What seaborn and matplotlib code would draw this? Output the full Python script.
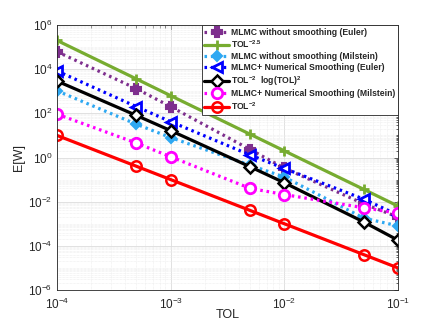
import matplotlib
matplotlib.use("Agg")
import matplotlib.pyplot as plt
import seaborn as sns
import pandas as pd
import numpy as np
from matplotlib.ticker import LogLocator, NullFormatter

tol = [1e-4, 5e-4, 1e-3, 5e-3, 1e-2, 5e-2, 1e-1]
mlmc_euler = [6.2e4, 1.3e3, 2.0e2, 2.3, 0.33, 8e-3, 2e-3]
ref_25 = [2e5, 3.6e3, 6.3e2, 11.3, 2.0, 3.6e-2, 6.3e-3]
mlmc_milstein = [1.05e3, 32, 8, 0.45, 0.13, 1.8e-3, 8e-4]
smooth_euler = [8.3e3, 200, 42, 1.3, 0.32, 0.013, 2.5e-3]
ref_2log = [2.9e3, 80, 16.5, 0.38, 0.072, 1.2e-3, 1.8e-4]
smooth_milstein = [92, 4.5, 1.08, 0.04, 0.021, 5.3e-3, 3e-3]
ref_2 = [10, 0.4, 0.1, 4e-3, 1e-3, 4e-5, 1e-5]

labels = ["MLMC without smoothing (Euler)", r"TOL$^{-2.5}$",
          "MLMC without smoothing (Milstein)", "MLMC+ Numerical Smoothing (Euler)",
          r"TOL$^{-2}$  log(TOL)$^{2}$", "MLMC+ Numerical Smoothing (Milstein)",
          r"TOL$^{-2}$"]
series = [mlmc_euler, ref_25, mlmc_milstein, smooth_euler, ref_2log,
          smooth_milstein, ref_2]

sns.set_style("white")
plt.rcParams['font.family'] = ['Liberation Sans', 'DejaVu Sans']
plt.rcParams['mathtext.fontset'] = 'custom'
plt.rcParams['mathtext.rm'] = 'Liberation Sans'
plt.rcParams['mathtext.it'] = 'Liberation Sans'
plt.rcParams['mathtext.bf'] = 'Liberation Sans:bold'
plt.rcParams['mathtext.default'] = 'regular'

dot = (0, (0.8, 1.2))
styles = [
    dict(color='#7E2F8E', linestyle=dot, marker='P', mfc='#7E2F8E', mec='#7E2F8E', ms=6.5),
    dict(color='#77AC30', linestyle='-', marker='+', mfc='none', mec='#77AC30', ms=6.5, mew=2),
    dict(color='#2EA8F2', linestyle=dot, marker='D', mfc='#2EA8F2', mec='#2EA8F2', ms=5.5),
    dict(color='#0000FF', linestyle=dot, marker='<', mfc='white', mec='#0000FF', ms=7.5, mew=2),
    dict(color='#000000', linestyle='-', marker='D', mfc='white', mec='#000000', ms=6, mew=1.8),
    dict(color='#FF00FF', linestyle=dot, marker='o', mfc='white', mec='#FF00FF', ms=7.5, mew=2),
    dict(color='#FF0000', linestyle='-', marker='o', mfc='none', mec='#FF0000', ms=7.5, mew=1.8),
]

fig = plt.figure(figsize=(4.4, 3.26), dpi=100)
ax = fig.add_axes([57/440, 36/326, 341/440, 265/326])

for lab, vals, st in zip(labels, series, styles):
    df = pd.DataFrame({"TOL": tol, "EW": vals})
    sns.lineplot(data=df, x="TOL", y="EW", ax=ax, label=lab, lw=2.3,
                 color=st['color'], linestyle=st['linestyle'], marker=st['marker'],
                 markerfacecolor=st['mfc'], markeredgecolor=st['mec'],
                 markersize=st['ms'], markeredgewidth=st.get('mew', 1.5),
                 dash_capstyle='butt')

ax.set_xscale('log')
ax.set_yscale('log')
ax.set_xlim(1e-4, 1e-1)
ax.set_ylim(1e-6, 1e6)
ax.set_yticks([1e-6, 1e-4, 1e-2, 1e0, 1e2, 1e4, 1e6])
ax.yaxis.set_minor_locator(LogLocator(base=10, subs=np.arange(1, 10), numticks=100))
ax.yaxis.set_minor_formatter(NullFormatter())
ax.xaxis.set_minor_locator(LogLocator(base=10, subs=np.arange(2, 10), numticks=100))
ax.xaxis.set_minor_formatter(NullFormatter())

ax.grid(True, which='major', color='#dcdcdc', lw=0.6)
ax.grid(True, which='minor', color='#ebebeb', lw=0.5, linestyle=(0, (1, 1)))
ax.set_axisbelow(True)

for s in ax.spines.values():
    s.set_color('#262626')
    s.set_linewidth(0.6)
ax.tick_params(which='both', direction='in', top=True, right=True, colors='#262626',
               labelsize=8.5, width=0.5)
ax.tick_params(which='major', length=3)
ax.tick_params(which='minor', length=1.8)
ax.tick_params(axis='x', pad=5)

ax.set_xlabel("TOL", fontsize=9, color='#262626', labelpad=-2)
ax.set_ylabel("E[W]", fontsize=9, color='#262626', labelpad=2)

leg = ax.legend(loc='upper right', prop={'weight': 'bold', 'size': 6.2},
                frameon=True, fancybox=False, edgecolor='#262626', framealpha=1,
                handlelength=2.8, handletextpad=0.3, borderpad=0.3, labelspacing=0.22,
                borderaxespad=0)
leg.get_frame().set_linewidth(0.6)

fig.savefig("out.png", dpi=100)
